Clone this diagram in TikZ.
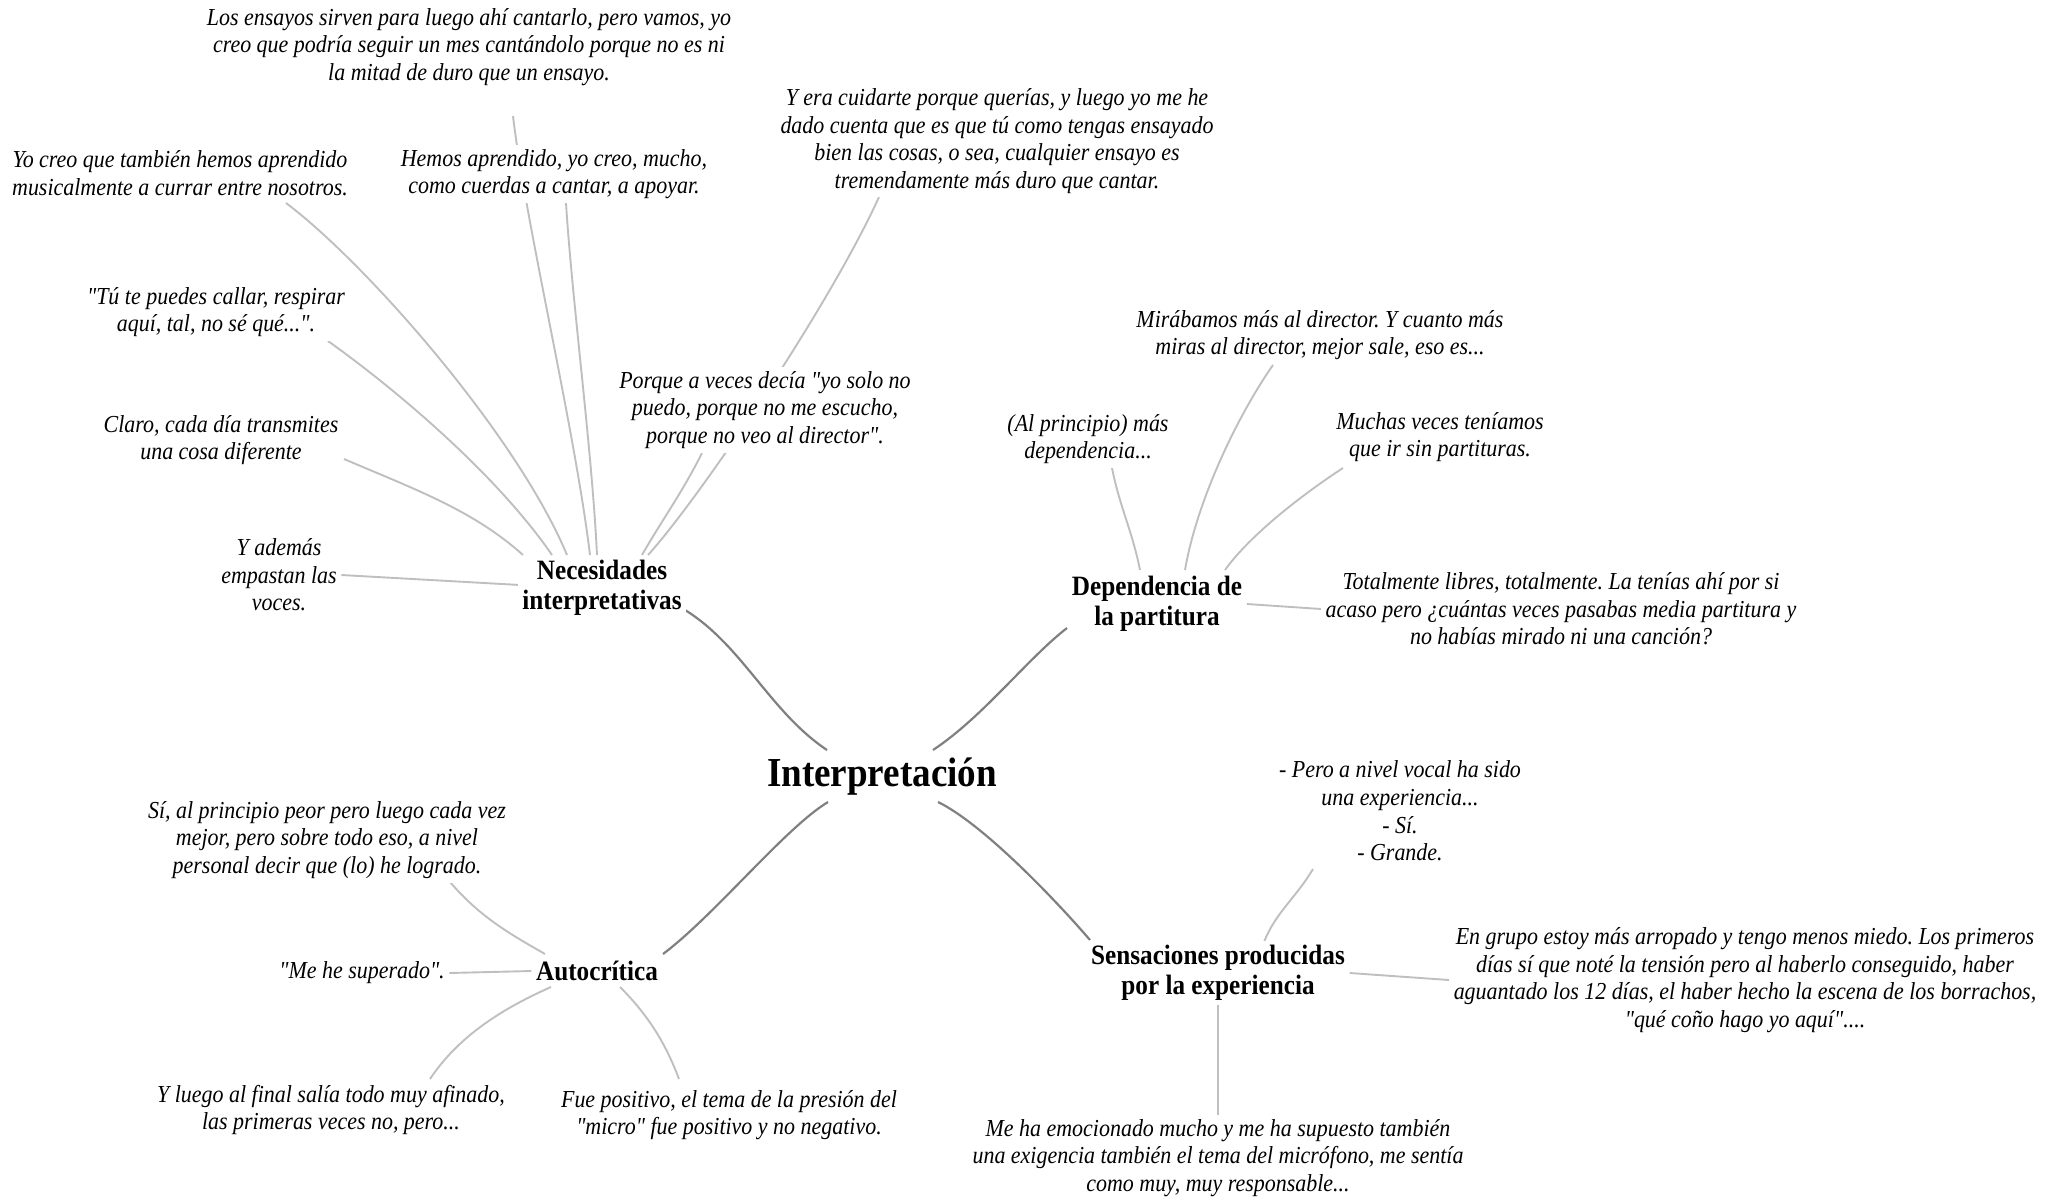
\documentclass[tikz,border=0pt]{standalone}
\usepackage{fontspec}
\setmainfont{Liberation Serif}[FakeStretch=0.9, Ligatures=TeXOff]
\usetikzlibrary{backgrounds}
\tikzset{every picture/.style={line width=0.75pt}}
\frenchspacing

\begin{document}
\begin{tikzpicture}[x=0.5pt,y=-0.5pt,
  root/.style={font=\bfseries\fontsize{20.6}{24}\selectfont, inner sep=0pt},
  branch/.style={font=\bfseries\fontsize{14}{15}\selectfont, align=center, fill=white, inner sep=2pt},
  leaf/.style={font=\itshape\fontsize{12.2}{13.8}\selectfont, align=center, fill=white, inner sep=2pt},
  mainlink/.style={draw=black!50, line width=1.1pt},
  leaflink/.style={draw=black!25, line width=0.95pt}]
\useasboundingbox (0,0) rectangle (2058,1200);

% Central topic
\node[root] (root) at (882,777) {Interpretación};

% Branches
\node[branch] (nec) at (602,588) {Necesidades\\interpretativas};
\node[branch] (dep) at (1157,604) {Dependencia de\\la partitura};
\node[branch] (auto) at (597,971) {Autocrítica};
\node[branch] (sens) at (1218,973) {Sensaciones producidas\\por la experiencia};

% Text Node
\node[leaf] (ens) at (469,47) {Los ensayos sirven para luego ahí cantarlo, pero vamos, yo\\creo que podría seguir un mes cantándolo porque no es ni\\la mitad de duro que un ensayo.};
\node[leaf] (yocreo) at (180,173) {Yo creo que también hemos aprendido\\musicalmente a currar entre nosotros.};
\node[leaf] (hemos) at (554,174) {Hemos aprendido, yo creo, mucho,\\como cuerdas a cantar, a apoyar.};
\node[leaf] (tu) at (216,312) {"Tú te puedes callar, respirar\\aquí, tal, no sé qué...".};
\node[leaf] (claro) at (221,440) {Claro, cada día transmites\\una cosa diferente};
\node[leaf] (yademas) at (279,575) {Y además\\empastan las\\voces.};
\node[leaf] (porque) at (765,410) {Porque a veces decía "yo solo no\\puedo, porque no me escucho,\\porque no veo al director".};
\node[leaf] (yera) at (997,141) {Y era cuidarte porque querías, y luego yo me he\\dado cuenta que es que tú como tengas ensayado\\bien las cosas, o sea, cualquier ensayo es\\tremendamente más duro que cantar.};
% Text Node
\node[leaf] (mirabamos) at (1320,335) {Mirábamos más al director. Y cuanto más\\miras al director, mejor sale, eso es...};
\node[leaf] (alprincipio) at (1088,439) {(Al principio) más\\dependencia...};
\node[leaf] (muchas) at (1440,437) {Muchas veces teníamos\\que ir sin partituras.};
\node[leaf] (totalmente) at (1561,609) {Totalmente libres, totalmente. La tenías ahí por si\\acaso pero ¿cuántas veces pasabas media partitura y\\no habías mirado ni una canción?};
% Text Node
\node[leaf] (si) at (327,840) {Sí, al principio peor pero luego cada vez\\mejor, pero sobre todo eso, a nivel\\personal decir que (lo) he logrado.};
\node[leaf] (mehe) at (362,973) {"Me he superado".};
\node[leaf] (yluego) at (331,1110) {Y luego al final salía todo muy afinado,\\las primeras veces no, pero...};
\node[leaf] (fue) at (729,1115) {Fue positivo, el tema de la presión del\\"micro" fue positivo y no negativo.};
% Text Node
\node[leaf] (pero) at (1400,811) {- Pero a nivel vocal ha sido\\una experiencia...\\- Sí.\\- Grande.};
\node[leaf] (engrupo) at (1745,980) {En grupo estoy más arropado y tengo menos miedo. Los primeros\\días sí que noté la tensión pero al haberlo conseguido, haber\\aguantado los 12 días, el haber hecho la escena de los borrachos,\\"qué coño hago yo aquí"....};
\node[leaf] (meha) at (1218,1158) {Me ha emocionado mucho y me ha supuesto también\\una exigencia también el tema del micrófono, me sentía\\como muy, muy responsable...};

\begin{scope}[on background layer]
%Curve Lines
\draw[mainlink] ([shift={(-55,-27)}]root.center) .. controls +(-57,-38) and +(57,35) .. ([shift={(83,22)}]nec.center);
\draw[mainlink] ([shift={(51,-27)}]root.center) .. controls +(50,-33) and +(-40,31) .. ([shift={(-90,24)}]dep.center);
\draw[mainlink] ([shift={(-54,25)}]root.center) .. controls +(-43,26) and +(52,-39) .. ([shift={(66,-17)}]auto.center);
\draw[mainlink] ([shift={(56,25)}]root.center) .. controls +(47,23) and +(-30,-35) .. ([shift={(-128,-33)}]sens.center);

%Curve Lines
\draw[leaflink] ([shift={(44,69)}]ens.center) .. controls +(12,104) and +(-15,-125) .. ([shift={(-12,-33)}]nec.center);
\draw[leaflink] ([shift={(12,29)}]hemos.center) .. controls +(6,97) and +(-5,-105) .. ([shift={(-5,-33)}]nec.center);
\draw[leaflink] ([shift={(106,30)}]yocreo.center) .. controls +(80,60) and +(-50,-120) .. ([shift={(-35,-33)}]nec.center);
\draw[leaflink] ([shift={(112,29)}]tu.center) .. controls +(70,50) and +(-55,-80) .. ([shift={(-50,-33)}]nec.center);
\draw[leaflink] ([shift={(123,19)}]claro.center) .. controls +(70,30) and +(-50,-45) .. ([shift={(-79,-33)}]nec.center);
\draw[leaflink] (yademas.east) -- ([shift={(-82,-3)}]nec.center);
\draw[leaflink] ([shift={(-63,43)}]porque.center) .. controls +(-20,40) and +(20,-35) .. ([shift={(40,-33)}]nec.center);
\draw[leaflink] ([shift={(-118,56)}]yera.center) .. controls +(-50,110) and +(50,-55) .. ([shift={(46,-33)}]nec.center);

%Curve Lines
\draw[leaflink] ([shift={(-47,30)}]mirabamos.center) .. controls +(-35,50) and +(12,-70) .. ([shift={(28,-34)}]dep.center);
\draw[leaflink] ([shift={(24,29)}]alprincipio.center) .. controls +(8,40) and +(-8,-40) .. ([shift={(-17,-34)}]dep.center);
\draw[leaflink] ([shift={(-97,31)}]muchas.center) .. controls +(-40,26) and +(25,-35) .. ([shift={(68,-34)}]dep.center);
\draw[leaflink] (dep.east) -- (totalmente.west);

%Curve Lines
\draw[leaflink] ([shift={(123,42)}]si.center) .. controls +(30,35) and +(-35,-20) .. ([shift={(-52,-17)}]auto.center);
\draw[leaflink] (mehe.east) -- (auto.west);
\draw[leaflink] ([shift={(-46,16)}]auto.center) .. controls +(-45,20) and +(30,-45) .. ([shift={(99,-31)}]yluego.center);
\draw[leaflink] ([shift={(23,16)}]auto.center) .. controls +(25,25) and +(-15,-40) .. ([shift={(-50,-36)}]fue.center);

%Curve Lines
\draw[leaflink] ([shift={(-87,58)}]pero.center) .. controls +(-18,30) and +(12,-30) .. ([shift={(46,-31)}]sens.center);
\draw[leaflink] (sens.east) -- (engrupo.west);
\draw[leaflink] (sens.south) -- (meha.north);
\end{scope}

\end{tikzpicture}
\end{document}
